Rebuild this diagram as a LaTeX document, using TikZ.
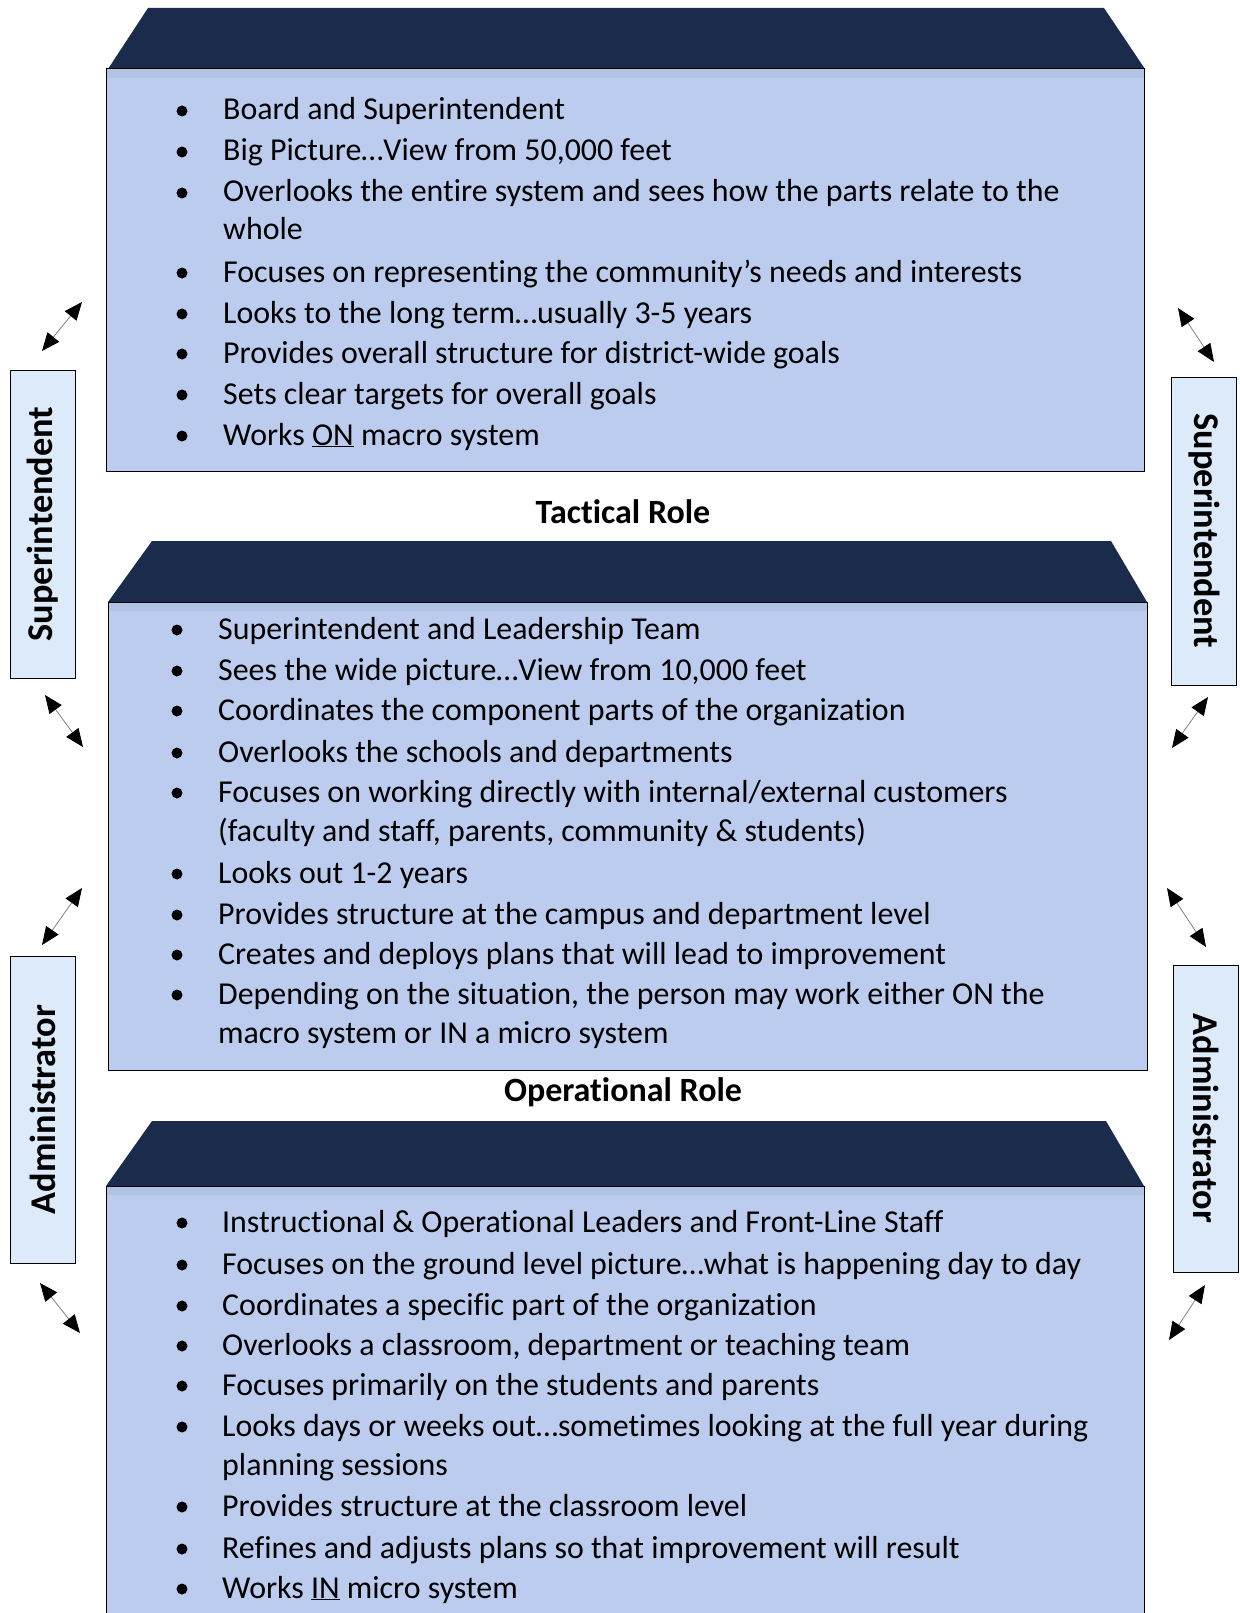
\documentclass[tikz,border=0pt]{standalone}
\usepackage{fontspec}
\setmainfont{Carlito}[Ligatures={NoCommon}]
\usetikzlibrary{arrows.meta}
\definecolor{navy}{HTML}{1B2B4B}
\definecolor{panelblue}{HTML}{BBCCEE}
\definecolor{bandblue}{HTML}{B2C4E5}
\definecolor{sidefill}{HTML}{DCEAF9}
\definecolor{arrowgray}{HTML}{808080}
\newcommand\bodyfont{\fontsize{31.9}{38}\selectfont}
\newcommand\headfont{\fontsize{34}{40}\selectfont\bfseries}
\newcommand\sidefont{\fontsize{36.3}{40}\selectfont\bfseries}
\begin{document}
\begin{tikzpicture}[x=1pt,y=-1pt,
  roof/.style={fill=navy, draw=none},
  panel/.style={fill=panelblue, draw=none},
  panelline/.style={draw=black, line width=1pt},
  band/.style={fill=bandblue, draw=none},
  sidebox/.style={draw=black, fill=sidefill, line width=0.9pt, minimum height=65pt, inner sep=0pt, font=\sidefont},
  item/.style={anchor=base west, inner sep=0pt, font=\bodyfont},
  bul/.style={circle, fill=black, draw=none, minimum size=11pt, inner sep=0pt},
  heading/.style={font=\headfont, inner sep=0pt},
  dbl/.style={draw=arrowgray, line width=0.8pt, {Triangle[color=black,length=18pt,width=15pt]}-{Triangle[color=black,length=18pt,width=15pt]}}
]
\useasboundingbox (0,0) rectangle (1239,1613);

% ---------- top box ----------
\path[roof] (148,8) -- (1104,8) -- (1145,69) -- (108,69) -- cycle;
\path[panel] (106,69) rectangle (1144,471);
\path[band] (106,69) rectangle (1144,78);
\draw[panelline] (106,69) rectangle (1144,471);

% ---------- middle box ----------
\path[roof] (152,541) -- (1111,541) -- (1147,602) -- (108,602) -- cycle;
\path[panel] (108,602) rectangle (1147,1070);
\path[band] (108,602) rectangle (1147,611);
\draw[panelline] (108,602) rectangle (1147,1070);

% ---------- bottom box ----------
\path[roof] (152,1121) -- (1106,1121) -- (1144,1186) -- (106,1186) -- cycle;
\path[panel] (106,1186) rectangle (1144,1620);
\path[band] (106,1186) rectangle (1144,1195);
\draw[panelline] (106,1620) -- (106,1186) -- (1144,1186) -- (1144,1620);

% ---------- headings ----------
\node[heading] (tact) at (623,512) {Tactical Role};
\node[heading] (oper) at (623,1092) {Operational Role};

% ---------- top box items ----------
\foreach \y/\t [count=\i] in {
  120/{Board and Superintendent},
  161/{Big Picture…View from 50,000 feet},
  202/{Overlooks the entire system and sees how the parts relate to the},
  282/{Focuses on representing the community’s needs and interests},
  323/{Looks to the long term…usually 3-5 years},
  363/{Provides overall structure for district-wide goals},
  404/{Sets clear targets for overall goals},
  445/{Works \underline{ON} macro system}}{
  \node[bul] (ab\i) at (182,\y-9) {};
  \node[item] (at\i) at (223,\y) {\t};
}
\node[item] (ac1) at (223,240) {whole};

% ---------- middle box items ----------
\foreach \y/\t [count=\i] in {
  639/{Superintendent and Leadership Team},
  680/{Sees the wide picture…View from 10,000 feet},
  720/{Coordinates the component parts of the organization},
  762/{Overlooks the schools and departments},
  802/{Focuses on working directly with internal/external customers},
  883/{Looks out 1-2 years},
  924/{Provides structure at the campus and department level},
  964/{Creates and deploys plans that will lead to improvement},
  1004/{Depending on the situation, the person may work either ON the}}{
  \node[bul] (bb\i) at (177,\y-9) {};
  \node[item] (bt\i) at (218,\y) {\t};
}
\node[item] (bc1) at (218,841) {(faculty and staff, parents, community \& students)};
\node[item] (bc2) at (218,1043) {macro system or IN a micro system};

% ---------- bottom box items ----------
\foreach \y/\t [count=\i] in {
  1232/{Instructional \& Operational Leaders and Front-Line Staff},
  1274/{Focuses on the ground level picture…what is happening day to day},
  1315/{Coordinates a specific part of the organization},
  1355/{Overlooks a classroom, department or teaching team},
  1395/{Focuses primarily on the students and parents},
  1436/{Looks days or weeks out…sometimes looking at the full year during},
  1516/{Provides structure at the classroom level},
  1558/{Refines and adjusts plans so that improvement will result},
  1598/{Works \underline{IN} micro system}}{
  \node[bul] (cb\i) at (182,\y-9) {};
  \node[item] (ct\i) at (222,\y) {\t};
}
\node[item] (cc1) at (222,1475) {planning sessions};

% ---------- side labels ----------
\node[sidebox, minimum width=308pt, rotate=90] (supL) at (42.5,524) {Superintendent};
\node[sidebox, minimum width=308pt, rotate=-90] (supR) at (1204,531) {Superintendent};
\node[sidebox, minimum width=307pt, rotate=90] (admL) at (42.5,1109.5) {Administrator};
\node[sidebox, minimum width=307pt, rotate=-90] (admR) at (1206,1118.5) {Administrator};

% ---------- arrows ----------
\coordinate (l1a) at (82,302);   \coordinate (l1b) at (42,351);
\coordinate (l2a) at (45,695);   \coordinate (l2b) at (83,747);
\coordinate (l3a) at (82,888);   \coordinate (l3b) at (42,945);
\coordinate (l4a) at (40,1283);  \coordinate (l4b) at (80,1333);
\coordinate (r1a) at (1178,308); \coordinate (r1b) at (1214,362);
\coordinate (r2a) at (1208,697); \coordinate (r2b) at (1172,748);
\coordinate (r3a) at (1167,888); \coordinate (r3b) at (1206,947);
\coordinate (r4a) at (1205,1285);\coordinate (r4b) at (1169,1340);
\draw[dbl] (l1a) -- (l1b);
\draw[dbl] (l2a) -- (l2b);
\draw[dbl] (l3a) -- (l3b);
\draw[dbl] (l4a) -- (l4b);
\draw[dbl] (r1a) -- (r1b);
\draw[dbl] (r2a) -- (r2b);
\draw[dbl] (r3a) -- (r3b);
\draw[dbl] (r4a) -- (r4b);
\end{tikzpicture}
\end{document}
